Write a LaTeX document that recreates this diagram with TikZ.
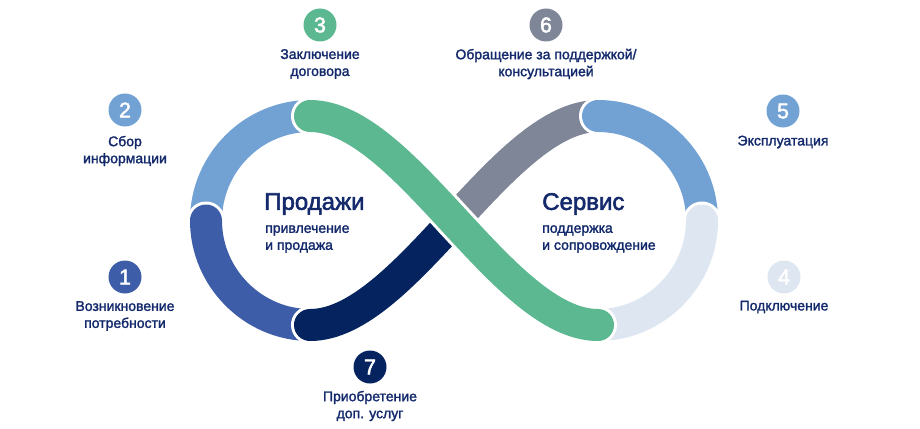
\documentclass[tikz,border=0pt]{standalone}
\usepackage{fontspec}
\setmainfont{Liberation Sans}
\newfontfamily\medfont[FakeBold=1.8]{Liberation Sans}
\newfontfamily\headfont[FakeBold=2.2]{Liberation Sans}
\usetikzlibrary{positioning}

\definecolor{navytext}{HTML}{13296B}
\definecolor{stepone}{HTML}{3E5DA8}
\definecolor{steptwo}{HTML}{72A1D4}
\definecolor{stepthree}{HTML}{5CB890}
\definecolor{stepfour}{HTML}{DDE6F1}
\definecolor{stepsix}{HTML}{7E8697}
\definecolor{stepseven}{HTML}{05245F}

% one band of the loop: white rim first, colour on top
\newcommand{\loopseg}[2]{%
  \draw[gap] #2;
  \draw[band, #1] #2;
}

\begin{document}
\begin{tikzpicture}[x=0.75pt, y=-0.75pt,
  band/.style={line width=24pt, line cap=round},
  gap/.style={white, line width=28.5pt, line cap=round},
  badge/.style={circle, fill=#1, minimum size=24.75pt, inner sep=0pt, text=white,
    font=\headfont\fontsize{16}{16}\selectfont},
  lbl/.style={text=navytext, align=center, inner sep=0pt,
    font=\medfont\fontsize{10.5}{12.75}\selectfont},
  title/.style={text=navytext, anchor=west, inner sep=0pt,
    font=\headfont\fontsize{18}{18}\selectfont},
  sub/.style={text=navytext, anchor=west, align=left, inner sep=0pt,
    font=\medfont\fontsize{10.5}{12.75}\selectfont}]
  \useasboundingbox (0,0) rectangle (920,428);

  % left loop
  \loopseg{steptwo}{(206,220.5) .. controls (206,163) and (253,116) .. (310,116)}
  \loopseg{stepone}{(310,325) .. controls (253,325) and (206,277.5) .. (206,220.5)}
  \loopseg{stepseven}{(454,220.5) .. controls (405.75,272.75) and (357.5,325) .. (310,325)}
  % right loop
  \loopseg{stepsix}{(598,116) .. controls (550.5,116) and (502.25,168.25) .. (454,220.5)}
  \loopseg{steptwo}{(702,220.5) .. controls (702,163) and (655,116) .. (598,116)}
  \loopseg{stepfour}{(598,325) .. controls (655,325) and (702,277.5) .. (702,220.5)}
  % contract band crosses over
  \loopseg{stepthree}{(310,116) .. controls (405,116) and (503,325) .. (598,325)}

  % centres
  \node[title] (sales) at (264,204) {Продажи};
  \node[sub] (salessub) at (265,239) {привлечение\\и продажа};
  \node[title] (service) at (542,204) {Сервис};
  \node[sub] (servicesub) at (542,239) {поддержка\\и сопровождение};

  % steps
  \node[badge=stepone] (b1) at (125,277) {1};
  \node[lbl] (l1) at (125,316) {Возникновение\\потребности};
  \node[badge=steptwo] (b2) at (125,110) {2};
  \node[lbl] (l2) at (125,151) {Сбор\\информации};
  \node[badge=stepthree] (b3) at (320,25) {3};
  \node[lbl] (l3) at (320,64) {Заключение\\договора};
  \node[badge=stepfour] (b4) at (784,277) {4};
  \node[lbl] (l4) at (784,307) {Подключение};
  \node[badge=steptwo] (b5) at (783,111) {5};
  \node[lbl] (l5) at (783,142) {Эксплуатация};
  \node[badge=stepsix] (b6) at (546,25) {6};
  \node[lbl] (l6) at (546,64) {Обращение за поддержкой/\\консультацией};
  \node[badge=stepseven] (b7) at (370,367) {7};
  \node[lbl] (l7) at (370,406) {Приобретение\\доп. услуг};
\end{tikzpicture}
\end{document}
